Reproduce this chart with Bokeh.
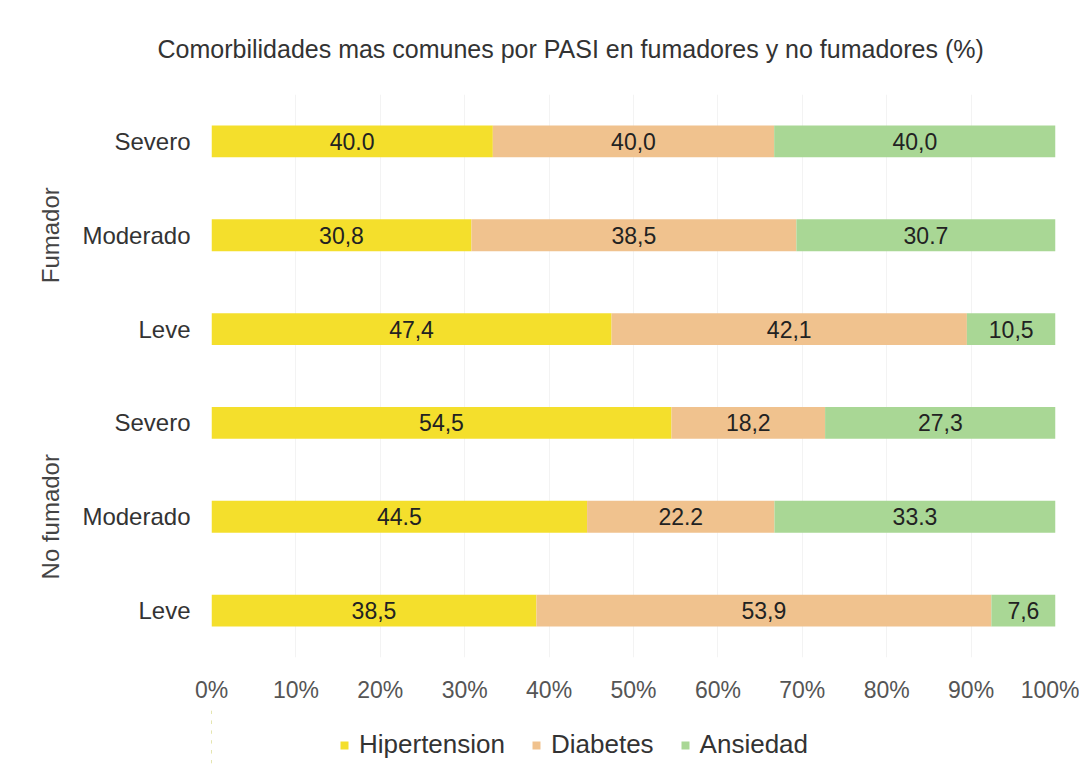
from bokeh.plotting import figure
from bokeh.models import ColumnDataSource, FactorRange, Legend, LegendItem, FixedTicker
from bokeh.layouts import column
from bokeh.core.properties import value
from bokeh.embed import file_html
from bokeh.resources import INLINE

groups = ["Fumador", "Fumador", "Fumador", "No fumador", "No fumador", "No fumador"]
levels = ["Severo", "Moderado", "Leve", "Severo", "Moderado", "Leve"]
hipertension = [40.0, 30.8, 47.4, 54.5, 44.5, 38.5]
diabetes = [40.0, 38.5, 42.1, 18.2, 22.2, 53.9]
ansiedad = [40.0, 30.7, 10.5, 27.3, 33.3, 7.6]
hip_txt = ["40.0", "30,8", "47,4", "54,5", "44.5", "38,5"]
dia_txt = ["40,0", "38,5", "42,1", "18,2", "22.2", "53,9"]
ans_txt = ["40,0", "30.7", "10,5", "27,3", "33.3", "7,6"]
x_ticks = [0, 10, 20, 30, 40, 50, 60, 70, 80, 90, 100]
series = ["Hipertension", "Diabetes", "Ansiedad"]
colors = ["#f4df2c", "#f0c28e", "#a9d795"]

FONT = "Liberation Sans"

ys = list(zip(groups, levels))
tot = [a + b + c for a, b, c in zip(hipertension, diabetes, ansiedad)]
h = [a / t * 100 for a, t in zip(hipertension, tot)]
d = [a / t * 100 for a, t in zip(diabetes, tot)]
an = [a / t * 100 for a, t in zip(ansiedad, tot)]

src = ColumnDataSource(dict(y=ys, Hipertension=h, Diabetes=d, Ansiedad=an))

factors = list(reversed(ys))
p = figure(frame_width=844, frame_height=563, output_backend="svg", toolbar_location=None,
           y_range=FactorRange(factors=factors, factor_padding=0, group_padding=0, range_padding=0),
           x_range=(0, 100),
           min_border_left=211, min_border_right=24, min_border_top=94, min_border_bottom=50)

rs = p.hbar_stack(series, y="y", height=0.34, color=colors, source=src, line_color=None)

xs, yl, tx = [], [], []
for i in range(len(ys)):
    starts = [0, h[i], h[i] + d[i]]
    widths = [h[i], d[i], an[i]]
    texts = [hip_txt[i], dia_txt[i], ans_txt[i]]
    for s, w, t in zip(starts, widths, texts):
        xs.append(s + w / 2)
        yl.append(ys[i])
        tx.append(t)
p.text(x=xs, y=yl, text=tx, text_align="center", text_baseline="middle",
       text_font=value(FONT), text_font_size="23px", text_color="#222222")

p.title.text = "Comorbilidades mas comunes por PASI en fumadores y no fumadores (%)"
p.title.text_font = FONT
p.title.text_font_size = "25px"
p.title.text_font_style = "normal"
p.title.text_color = "#333333"
p.title.align = "left"
p.title.offset = -54
p.title.standoff = 64

p.xaxis.ticker = FixedTicker(ticks=x_ticks)
p.xaxis.major_label_overrides = {t: f"{t}%" for t in x_ticks}
p.xaxis.major_label_text_font = FONT
p.xaxis.major_label_text_font_size = "23px"
p.xaxis.major_label_text_color = "#555555"
p.xaxis.major_label_standoff = 13
p.xaxis.axis_line_color = None
p.xaxis.major_tick_line_color = None
p.xaxis.minor_tick_line_color = None

p.yaxis.major_label_text_font = FONT
p.yaxis.major_label_text_font_size = "24px"
p.yaxis.major_label_text_color = "#333333"
p.yaxis.major_label_standoff = 15
p.yaxis.group_text_font = FONT
p.yaxis.group_text_font_size = "24px"
p.yaxis.group_text_font_style = "normal"
p.yaxis.group_text_color = "#444444"
p.yaxis.group_label_orientation = "vertical"
p.yaxis.separator_line_alpha = 0
p.yaxis.axis_line_color = None
p.yaxis.major_tick_line_color = None
p.yaxis.minor_tick_line_color = None

p.xgrid.grid_line_color = "#f3f3f3"
p.ygrid.grid_line_color = None
p.outline_line_color = None

# legend strip below the chart (same stacked series, drawn outside its visible x range)
pl = figure(width=1079, height=59, output_backend="svg", toolbar_location=None,
            x_range=(1000, 1100),
            y_range=FactorRange(factors=factors, factor_padding=0, group_padding=0, range_padding=0),
            x_axis_location=None, y_axis_location=None,
            min_border_left=0, min_border_right=0, min_border_top=0, min_border_bottom=0)
pl.grid.grid_line_color = None
pl.outline_line_color = None
lrs = pl.hbar_stack(series, y="y", height=0.34, color=colors, source=src, line_color=None)
legend = Legend(items=[LegendItem(label=s, renderers=[r]) for s, r in zip(series, lrs)],
                orientation="horizontal", location=(128, 6),
                label_text_font=FONT, label_text_font_size="26px", label_text_color="#333333",
                glyph_width=10, glyph_height=10, label_standoff=10, spacing=26,
                border_line_color=None, background_fill_alpha=0, margin=0, padding=0)
pl.add_layout(legend)

layout = column(p, pl, spacing=0)
open("out.html", "w").write(file_html(layout, INLINE))
